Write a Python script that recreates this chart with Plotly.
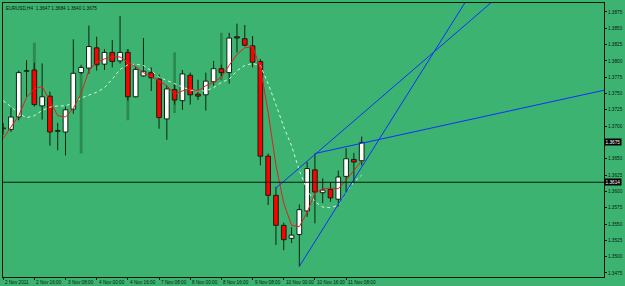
import plotly.graph_objects as go

# ---------------- data ----------------
bar_index = list(range(47))
opens = [1.3696, 1.3695, 1.3714, 1.3784, 1.3786, 1.3731, 1.3746, 1.3692, 1.3691, 1.3726,
         1.3782, 1.3789, 1.3820, 1.3795, 1.3813, 1.3800, 1.3813, 1.3745, 1.3777, 1.3782,
         1.3772, 1.3711, 1.3756, 1.3739, 1.3778, 1.3749, 1.3748, 1.3768, 1.3788, 1.3782,
         1.3837, 1.3834, 1.3823, 1.3799, 1.3654, 1.3594, 1.3548, 1.3528, 1.3534, 1.3570,
         1.3633, 1.3598, 1.3603, 1.3588, 1.3623, 1.3649, 1.3647]
highs = [1.3705, 1.3728, 1.3785, 1.3801, 1.3797, 1.3796, 1.3753, 1.3705, 1.3730, 1.3833,
         1.3794, 1.3854, 1.3837, 1.3818, 1.3832, 1.3869, 1.3818, 1.3791, 1.3835, 1.3790,
         1.3779, 1.3762, 1.3764, 1.3786, 1.3782, 1.3771, 1.3782, 1.3800, 1.3794, 1.3843,
         1.3857, 1.3855, 1.3838, 1.3803, 1.3658, 1.3607, 1.3552, 1.3545, 1.3580, 1.3645,
         1.3658, 1.3620, 1.3614, 1.3632, 1.3666, 1.3659, 1.3684]
lows = [1.3687, 1.3691, 1.3709, 1.3745, 1.3730, 1.3710, 1.3670, 1.3663, 1.3655, 1.3719,
        1.3780, 1.3780, 1.3785, 1.3786, 1.3790, 1.3796, 1.3739, 1.3744, 1.3776, 1.3754,
        1.3696, 1.3679, 1.3733, 1.3725, 1.3733, 1.3740, 1.3724, 1.3762, 1.3777, 1.3765,
        1.3813, 1.3822, 1.3790, 1.3640, 1.3579, 1.3518, 1.3510, 1.3521, 1.3485, 1.3561,
        1.3551, 1.3582, 1.3584, 1.3577, 1.3598, 1.3612, 1.3640]
closes = [1.3697, 1.3714, 1.3782, 1.3785, 1.3733, 1.3745, 1.3691, 1.3693, 1.3725, 1.3781,
          1.3790, 1.3822, 1.3794, 1.3813, 1.3799, 1.3813, 1.3745, 1.3787, 1.3784, 1.3774,
          1.3713, 1.3757, 1.3740, 1.3780, 1.3748, 1.3746, 1.3769, 1.3788, 1.3782, 1.3835,
          1.3835, 1.3824, 1.3798, 1.3654, 1.3594, 1.3548, 1.3526, 1.3533, 1.3572, 1.3635,
          1.3599, 1.3602, 1.3590, 1.3622, 1.3650, 1.3645, 1.3675]

ma_fast = [1.3681, 1.3698, 1.3716, 1.3744, 1.3757, 1.3761, 1.3739, 1.3716, 1.3714, 1.3727,
           1.3750, 1.3785, 1.3798, 1.3803, 1.3806, 1.3806, 1.3798, 1.3791, 1.3782, 1.3776,
           1.3770, 1.3762, 1.3749, 1.3754, 1.3757, 1.3754, 1.3762, 1.3767, 1.3775, 1.3793,
           1.3810, 1.3820, 1.3822, 1.3790, 1.3721, 1.3640, 1.3582, 1.3548, 1.3546, 1.3568,
           1.3597, 1.3604, 1.3605, 1.3604, 1.3617, 1.3632, 1.3647]
ma_slow = [1.3739, 1.3730, 1.3719, 1.3713, 1.3716, 1.3724, 1.3729, 1.3731, 1.3731, 1.3736,
           1.3743, 1.3747, 1.3752, 1.3759, 1.3772, 1.3787, 1.3794, 1.3795, 1.3793, 1.3785,
           1.3775, 1.3770, 1.3765, 1.3759, 1.3755, 1.3754, 1.3754, 1.3759, 1.3767, 1.3772,
           1.3785, 1.3793, 1.3796, 1.3793, 1.3765, 1.3733, 1.3699, 1.3670, 1.3632, 1.3602,
           1.3584, 1.3576, 1.3575, 1.3579, 1.3599, 1.3614, 1.3625]

range_bars = [4, 10, 16, 22, 28]
range_hi = [1.3828, 1.3782, 1.3818, 1.3813, 1.3843]
range_lo = [1.3735, 1.3658, 1.3709, 1.3720, 1.3770]

trend_start = [(38, 1.3485), (35, 1.3605), (40, 1.3658)]
trend_through = [(55.4, 1.3816), (55.4, 1.3815), (63.7, 1.3720)]

hline_price = 1.3614
last_price = 1.3675
title_text = "EURUSD,H4  1.3647 1.3684 1.3640 1.3675"

xtick_bars = [0, 4, 8, 12, 16, 20, 24, 28, 32, 36, 40, 44]
xtick_labels = ["2 Nov 2011", "2 Nov 16:00", "3 Nov 08:00", "4 Nov 00:00", "4 Nov 16:00",
                "7 Nov 08:00", "8 Nov 00:00", "8 Nov 16:00", "9 Nov 08:00", "10 Nov 00:00",
                "10 Nov 16:00", "11 Nov 08:00"]
price_tick_labels = ["1.3475", "1.3500", "1.3525", "1.3550", "1.3575", "1.3600", "1.3625",
                     "1.3650", "1.3700", "1.3725", "1.3750", "1.3775", "1.3800",
                     "1.3825", "1.3850", "1.3875"]

# ---------------- style ----------------
BG = "#3CB371"
WICK = "#0c240f"
FONT = "Liberation Sans"
FS = 4.7
X_RANGE = [-0.02, 77.09]
Y_RANGE = [1.34688, 1.38887]

fig = go.Figure()

# background day-range bars
fig.add_trace(go.Bar(
    x=range_bars, base=range_lo, y=[h - l for h, l in zip(range_hi, range_lo)],
    width=0.36, marker=dict(color="#2b8a4e", line=dict(width=0)), hoverinfo="skip"))

# candle bodies
body_base = [min(o, c) for o, c in zip(opens, closes)]
body_h = [max(abs(c - o), 0.00012) for o, c in zip(opens, closes)]
body_col = ["#ffffff" if c >= o else "#ff0000" for o, c in zip(opens, closes)]
fig.add_trace(go.Bar(
    x=bar_index, base=body_base, y=body_h, width=0.6,
    marker=dict(color=body_col, line=dict(color=WICK, width=1)), hoverinfo="skip"))

# wicks (upper and lower segments so they do not cross bodies)
wx, wy = [], []
for i, o, h, l, c in zip(bar_index, opens, highs, lows, closes):
    top, bot = max(o, c), min(o, c)
    wx += [i, i, None, i, i, None]
    wy += [top, h, None, l, bot, None]
fig.add_trace(go.Scatter(x=wx, y=wy, mode="lines", line=dict(color=WICK, width=1),
                         hoverinfo="skip"))

# moving averages
fig.add_trace(go.Scatter(x=bar_index, y=ma_slow, mode="lines",
                         line=dict(color="rgba(225,250,225,0.95)", width=1, dash="dot"),
                         hoverinfo="skip"))
fig.add_trace(go.Scatter(x=bar_index, y=ma_fast, mode="lines",
                         line=dict(color="#e02020", width=1), hoverinfo="skip"))

# trendlines (rays extended to the right)
x_end = 80
for (x0, y0), (x1, y1) in zip(trend_start, trend_through):
    slope = (y1 - y0) / (x1 - x0)
    fig.add_trace(go.Scatter(x=[x0, x_end], y=[y0, y0 + slope * (x_end - x0)], mode="lines",
                             line=dict(color="#1030ff", width=1), hoverinfo="skip"))

# horizontal line
fig.add_shape(type="line", xref="paper", x0=0, x1=1, yref="y", y0=hline_price, y1=hline_price,
              line=dict(color="#0a1a0a", width=1))

annotations = []
for b, t in zip(xtick_bars, xtick_labels):
    annotations.append(dict(x=b, y=0, xref="x", yref="paper", text=t, showarrow=False,
                            xanchor="left", yanchor="top", xshift=0, yshift=-1,
                            font=dict(family=FONT, size=FS, color="#0a1a0a")))
for p in (last_price, hline_price):
    annotations.append(dict(x=1, y=p, xref="paper", yref="y", text=f"{p:.4f}", showarrow=False,
                            xanchor="left", yanchor="middle", xshift=0,
                            bgcolor="#000000", borderpad=0.6,
                            font=dict(family=FONT, size=FS, color="#ffffff")))
annotations.append(dict(x=0, y=1, xref="paper", yref="paper", text=title_text, showarrow=False,
                        xanchor="left", yanchor="top", xshift=1, yshift=-1,
                        font=dict(family=FONT, size=FS, color="#0a1a0a")))

fig.update_layout(
    width=625, height=286,
    margin=dict(l=2, r=20, t=2, b=9),
    paper_bgcolor=BG, plot_bgcolor=BG,
    showlegend=False, barmode="overlay",
    annotations=annotations,
    xaxis=dict(range=X_RANGE, tickvals=xtick_bars, showticklabels=False,
               ticks="outside", ticklen=2, tickcolor="#0a1a0a",
               showgrid=False, zeroline=False, showline=True, linecolor="#0a1a0a",
               linewidth=1, mirror=True),
    yaxis=dict(range=Y_RANGE, side="right", tickvals=[float(t) for t in price_tick_labels],
               ticktext=price_tick_labels, ticks="outside", ticklen=2, tickcolor="#0a1a0a",
               tickfont=dict(family=FONT, size=FS, color="#0a1a0a"),
               showgrid=False, zeroline=False, showline=True, linecolor="#0a1a0a",
               linewidth=1, mirror=True),
)

fig.write_html("out.html")
